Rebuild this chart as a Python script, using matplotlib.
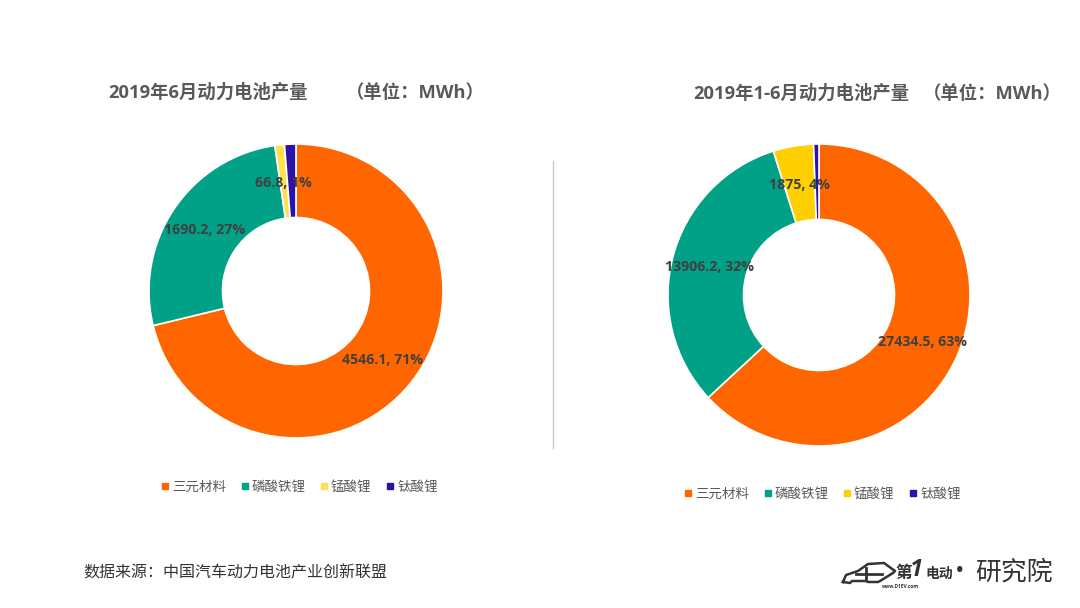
import numpy as np
import matplotlib
matplotlib.use('Agg')
import matplotlib.pyplot as plt
from matplotlib.lines import Line2D

plt.rcParams['font.family'] = ['Open Sans', 'Noto Sans CJK SC', 'DejaVu Sans']

W = 1080
H = 608

materials = ['三元材料', '磷酸铁锂', '锰酸锂', '钛酸锂']
june_values = [4546.1, 1690.2, 66.8, 80.0]
june_labels = ['4546.1, 71%', '1690.2, 27%', '66.8, 1%', '']
half_values = [27434.5, 13906.2, 1875, 250.0]
half_labels = ['27434.5, 63%', '13906.2, 32%', '1875, 4%', '']
june_colors = ['#ff6600', '#00a186', '#ffe14d', '#2e0fa8']
half_colors = ['#ff6600', '#00a186', '#ffd000', '#2e0fa8']
car_x = [843, 846, 858, 868, 884, 895, 893, 880, 878, 868, 866, 852, 850, 843]
car_y = [582, 575, 571, 564, 563, 571, 573, 581, 582, 582, 581, 581, 583, 582]


def draw_donut(cx, cy, r, values, labels, colors):
    # pie axes placed in pixel coords of the 1080x608 picture
    ax = fig.add_axes([(cx - r) / W, 1 - (cy + r) / H, 2 * r / W, 2 * r / H])
    ax.pie(values, colors=colors, startangle=90, counterclock=False,
           radius=1.0, wedgeprops=dict(width=0.5, edgecolor='white', linewidth=1.2))
    ax.set_xlim(-1, 1)
    ax.set_ylim(-1, 1)
    total = sum(values)
    start = 0
    for v, lab in zip(values, labels):
        mid = np.radians((start + v / 2) / total * 360)
        start += v
        if lab:
            ax.text(0.75 * np.sin(mid), 0.75 * np.cos(mid) - 0.008, lab, ha='center', va='center',
                    fontsize=10.2, fontweight='bold', color='#404040')


def draw_legend(x, y, colors):
    handles = [Line2D([], [], marker='s', linestyle='', color=c, markersize=4.5) for c in colors]
    fig.legend(handles, materials, loc='center', bbox_to_anchor=(x / W, 1 - y / H), ncol=4, frameon=False,
               fontsize=9.7, labelcolor='#595959', handlelength=0.7, handletextpad=0.15, columnspacing=1.05)


fig = plt.figure(figsize=(W / 100, H / 100), dpi=100)

draw_donut(296, 291, 147, june_values, june_labels, june_colors)
draw_donut(819, 295, 151, half_values, half_labels, half_colors)
draw_legend(299, 487, june_colors)
draw_legend(822, 494, half_colors)

title_font = dict(fontsize=13.2, fontweight='bold', color='#595959', va='center')
fig.text(108 / W, 1 - 93 / H, '2019年6月动力电池产量', **title_font)
fig.text(346 / W, 1 - 93 / H, '（单位：MWh）', **title_font)
fig.text(693 / W, 1 - 94 / H, '2019年1-6月动力电池产量', **title_font)
fig.text(923 / W, 1 - 94 / H, '（单位：MWh）', **title_font)
fig.text(83 / W, 1 - 573 / H, '数据来源：中国汽车动力电池产业创新联盟', fontsize=11.5, color='#333333', va='center')

fig.add_artist(Line2D([553 / W, 553 / W], [1 - 161 / H, 1 - 448 / H], color='#c8c8c8', linewidth=1))

# logo at bottom right, rough car outline plus text
fig.add_artist(Line2D(np.array(car_x) / W, 1 - np.array(car_y) / H, color='#333333', linewidth=1.8))
fig.add_artist(Line2D([856 / W, 882 / W], [1 - 574 / H, 1 - 574 / H], color='#333333', linewidth=2))
fig.add_artist(Line2D([866 / W, 866 / W], [1 - 568 / H, 1 - 580 / H], color='#333333', linewidth=2))
fig.text(895 / W, 1 - 573 / H, '第', fontsize=12, fontweight='bold', color='#333333', va='center')
fig.text(910 / W, 1 - 570 / H, '1', fontsize=17, fontweight='bold', style='italic', color='#333333', va='center')
fig.text(925 / W, 1 - 574 / H, '电动', fontsize=10, fontweight='bold', color='#333333', va='center')
fig.text(882 / W, 1 - 586 / H, 'www.D1EV.com', fontsize=3.5, fontweight='bold', color='#333333', va='center')
fig.text(955 / W, 1 - 572 / H, '•', fontsize=18, color='#333333', va='center')
fig.text(975 / W, 1 - 573 / H, '研究院', fontsize=18.6, color='#333333', va='center')

fig.savefig('out.png', dpi=100)
